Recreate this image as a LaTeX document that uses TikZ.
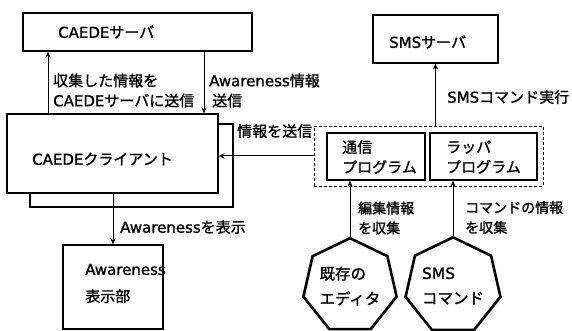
\documentclass[tikz,border=0pt]{standalone}
\usepackage{fontspec}
\setmainfont{DejaVu Sans}[FakeBold=1.2,AutoFakeBold=1.2]
\newfontfamily\jp{Noto Sans CJK JP}[FakeBold=1.2,AutoFakeBold=1.2]
\usetikzlibrary{shapes.geometric,arrows.meta}
\newcommand\J[1]{{\jp #1}}
\begin{document}
\begin{tikzpicture}[x=1pt,y=-1pt,
  font=\bfseries,
  box/.style={draw, line width=1.1pt, fill=white, inner sep=0, rectangle},
  arr/.style={-{Stealth[length=6pt,width=5pt]}, line width=1pt},
  lbl/.style={anchor=west, align=left, inner sep=0, font=\fontsize{15}{20}\selectfont\bfseries},
  slbl/.style={lbl, font=\fontsize{14}{20}\selectfont\bfseries},
  hept/.style={draw, regular polygon, regular polygon sides=7, line width=2.6pt, inner sep=0, align=left, font=\fontsize{15.5}{25}\selectfont\bfseries}]
\useasboundingbox (0,0) rectangle (572,331);
% boxes
\node[box, minimum width=229pt, minimum height=38pt] (srv) at (137.5,32) {};
\node[lbl] (srvt) at (58,32) {CAEDE\J{サーバ}};
\node[box, minimum width=203pt, minimum height=83pt] (clb) at (131.5,165.5) {};
\node[box, minimum width=211pt, minimum height=79pt] (cl) at (112.5,153.5) {};
\node[lbl] (clt) at (32,159) {CAEDE\J{クライアント}};
\node[box, minimum width=100pt, minimum height=84pt] (aw) at (113,287) {};
\node[lbl, font=\fontsize{15}{27}\selectfont\bfseries] (awt) at (85,283.5) {Awareness\\\J{表示部}};
\node[box, minimum width=125pt, minimum height=48pt] (sms) at (435.5,39) {};
\node[lbl] (smst) at (389,42) {SMS\J{サーバ}};
\node[draw, densely dashed, line width=0.9pt, minimum width=229pt, minimum height=60pt, inner sep=0] (grp) at (428.5,156) {};
\node[box, minimum width=98pt, minimum height=47pt] (p1) at (376,156.5) {};
\node[lbl] (p1t) at (342,157) {\J{通信}\\\J{プログラム}};
\node[box, minimum width=107pt, minimum height=47pt] (p2) at (483.5,156.5) {};
\node[lbl] (p2t) at (446,157) {\J{ラッパ}\\\J{プログラム}};
\node[hept, minimum size=95pt] (h1) at (350,286) {\J{既存の}\\\J{エディタ}};
\node[hept, minimum size=97pt] (h2) at (453,286) {SMS\\\J{コマンド}};
% connectors
\coordinate (xa) at (48,0);
\coordinate (xb) at (204,0);
\draw[arr] (cl.north -| xa) -- (srv.south -| xa);
\draw[arr] (srv.south -| xb) -- (cl.north -| xb);
\draw[arr] (grp.west) -- (cl.east |- grp.west);
\draw[arr] (cl.south -| aw.north) -- (aw.north);
\draw[arr] (grp.north -| sms.south) -- (sms.south);
\draw[arr] (h1.corner 1) -- (h1.corner 1 |- p1.south);
\draw[arr] (h2.corner 1) -- (h2.corner 1 |- p2.south);
% labels
\node[lbl] (l1) at (53,90.5) {\J{収集した情報を}\\CAEDE\J{サーバに送信}};
\node[lbl] (l2) at (209,90.5) {Awareness\J{情報}\\\hspace*{3pt}\J{送信}};
\node[lbl] (l3) at (237,131) {\J{情報を送信}};
\node[lbl] (l4) at (120,227) {Awareness\J{を表示}};
\node[lbl] (l5) at (447,97) {SMS\J{コマンド実行}};
\node[slbl] (l6) at (358,218) {\J{編集情報}\\\J{を収集}};
\node[slbl] (l7) at (465,217.5) {\J{コマンドの情報}\\\J{を収集}};
\end{tikzpicture}
\end{document}
